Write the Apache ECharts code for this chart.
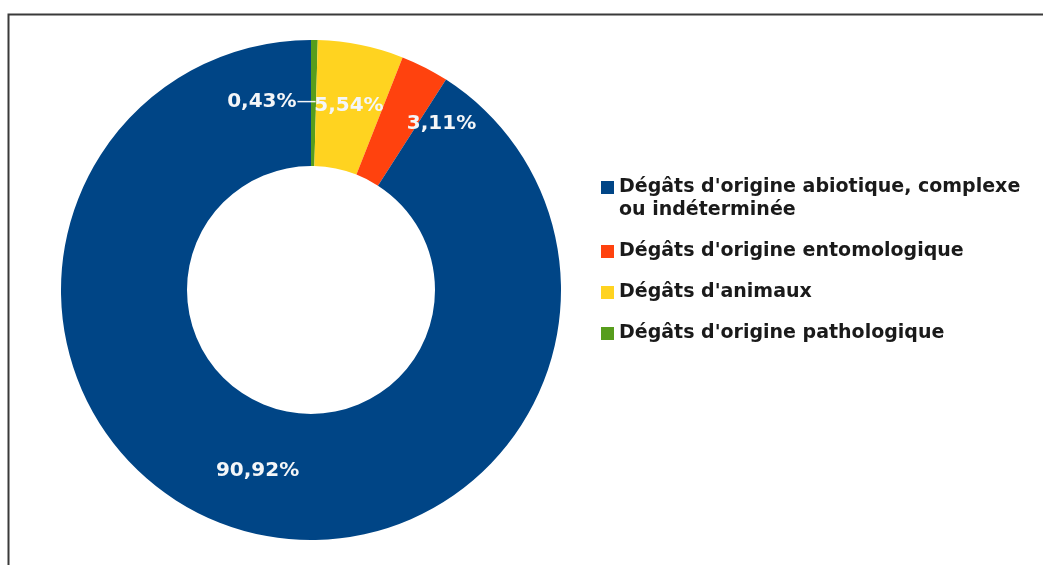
<!DOCTYPE html>
<html>
<head>
<meta charset="utf-8">
<script src="https://cdn.jsdelivr.net/npm/echarts@6/dist/echarts.min.js"></script>
<style>
  html, body { margin: 0; padding: 0; background: #fff; }
  #main { width: 1044px; height: 565px; }
</style>
</head>
<body>
<div id="main"></div>
<script>
// slices in drawing order (clockwise from 12 o'clock)
var categories = [
    "Dégâts d'origine pathologique",
    "Dégâts d'animaux",
    "Dégâts d'origine entomologique",
    "Dégâts d'origine abiotique, complexe\nou indéterminée"
];
var values = [0.43, 5.54, 3.11, 90.92];
var colors = ['#579d1c', '#ffd320', '#ff420e', '#004586'];
// legend order differs from slice order
var legendOrder = [3, 2, 1, 0];

var font = 'DejaVu Sans';

var chart = echarts.init(document.getElementById('main'));

var pieData = categories.map(function (name, i) {
    return { name: name, value: values[i], itemStyle: { color: colors[i] } };
});

var legendData = legendOrder.map(function (i) {
    var item = { name: categories[i] };
    if (categories[i].indexOf('\n') >= 0) {
        // keep the icon level with the first line
        item.textStyle = { padding: [23, 0, 0, 0] };
    }
    return item;
});

function fmtPct(v) {
    return v.toFixed(2).replace('.', ',') + '%';
}

var option = {
    animation: false,
    backgroundColor: '#fff',
    graphic: [{
        type: 'polyline',
        silent: true,
        shape: { points: [[8.5, 565], [8.5, 14.5], [1043, 14.5]] },
        style: { stroke: '#3a3a3a', lineWidth: 2, fill: null }
    }],
    legend: {
        orient: 'vertical',
        left: 601,
        top: 178,
        padding: 0,
        itemGap: 22,
        itemWidth: 13,
        itemHeight: 13,
        icon: 'rect',
        selectedMode: false,
        data: legendData,
        formatter: function (name) {
            return name.split('\n').map(function (s) { return '{t|' + s + '}'; }).join('\n');
        },
        textStyle: {
            rich: {
                t: {
                    fontFamily: font,
                    fontSize: 19,
                    fontWeight: 'bold',
                    color: '#1a1a1a',
                    lineHeight: 23
                }
            }
        }
    },
    series: [{
        type: 'pie',
        center: [311, 290],
        radius: [124, 250],
        startAngle: 90,
        clockwise: true,
        avoidLabelOverlap: false,
        silent: true,
        label: {
            show: true,
            position: 'inside',
            formatter: function (p) {
                if (p.dataIndex === 0) return '{v|' + fmtPct(p.value) + '}{d|—}';
                return '{v|' + fmtPct(p.value) + '}';
            },
            rich: {
                v: { fontFamily: font, fontSize: 20, fontWeight: 'bold', color: '#f4f6f8' },
                d: { fontFamily: font, fontSize: 20, fontWeight: 'normal', color: '#f4f6f8' }
            }
        },
        labelLine: { show: false },
        labelLayout: function (params) {
            if (params.dataIndex === 0) {
                return { dx: -params.labelRect.width / 2 + 3, dy: 2 };
            }
            if (params.dataIndex === 2) {
                return { dx: 44, dy: 3 };
            }
            if (params.dataIndex === 3) {
                return { dy: -2 };
            }
            return { dy: 2 };
        },
        data: pieData
    }]
};

chart.setOption(option);
</script>
</body>
</html>
